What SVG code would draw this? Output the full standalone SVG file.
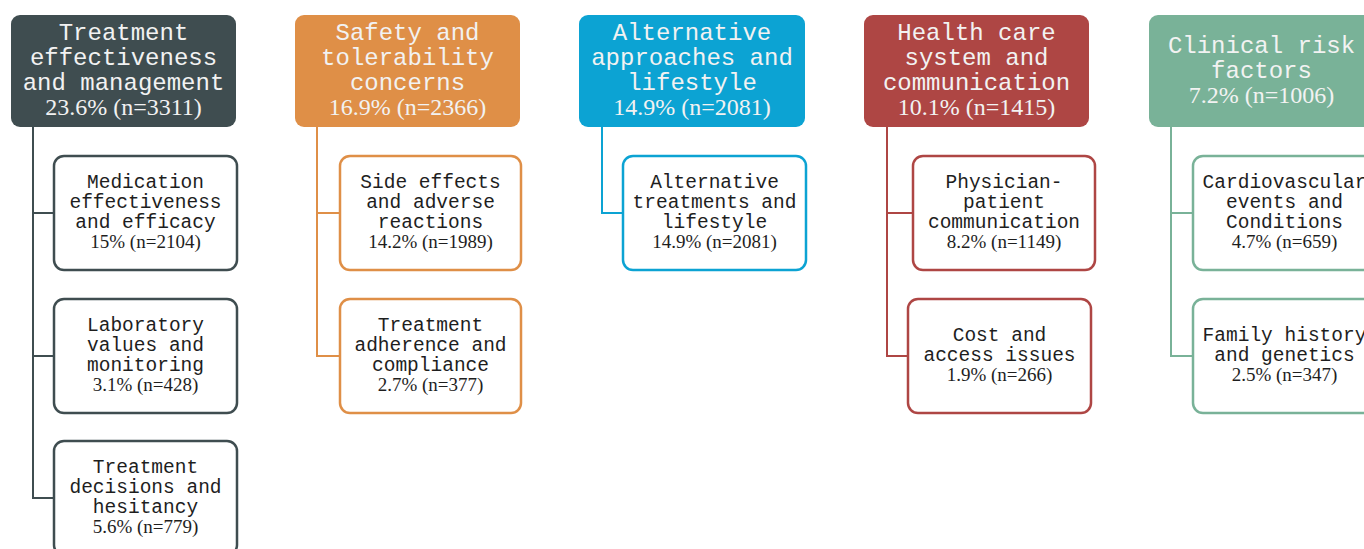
<svg xmlns="http://www.w3.org/2000/svg" width="1364" height="549" viewBox="0 0 1364 549">
  <style>
    .head { stroke: none; }
    .child { fill: #ffffff; stroke-width: 2.5; }
    .conn { fill: none; stroke-width: 2; }
    .ht { font-family: "Liberation Mono", "Courier New", monospace; font-size: 24px; fill: #f2f2f2; text-anchor: middle; }
    .hn { font-family: "Liberation Serif", "Times New Roman", serif; font-size: 24px; fill: #f2f2f2; text-anchor: middle; }
    .ct { font-family: "Liberation Mono", "Courier New", monospace; font-size: 19.5px; fill: #1e1e1e; text-anchor: middle; }
    .cn { font-family: "Liberation Serif", "Times New Roman", serif; font-size: 19px; fill: #1e1e1e; text-anchor: middle; }
    .c1 { stroke: #3f4d50; } .f1 { fill: #3f4d50; }
    .c2 { stroke: #df8f47; } .f2 { fill: #df8f47; }
    .c3 { stroke: #0ca3d3; } .f3 { fill: #0ca3d3; }
    .c4 { stroke: #ae4644; } .f4 { fill: #ae4644; }
    .c5 { stroke: #79b298; } .f5 { fill: #79b298; }
  </style>

  <!-- connectors: one trunk per category, branches to each sub-theme -->
  <g id="connectors">
    <path class="conn c1" d="M33,127 V498 H54 M33,213 H54 M33,356 H54"/>
    <path class="conn c2" d="M317,127 V356 H340 M317,213 H340"/>
    <path class="conn c3" d="M602,127 V213 H623"/>
    <path class="conn c4" d="M887,127 V356 H908 M887,213 H913"/>
    <path class="conn c5" d="M1171,127 V356 H1193 M1171,213 H1193"/>
  </g>

  <!-- Category 1 -->
  <g id="treatment-effectiveness">
    <rect class="head f1" x="11" y="15" width="225" height="112" rx="9"/>
    <text class="ht" x="123.5" y="40">Treatment</text>
    <text class="ht" x="123.5" y="65">effectiveness</text>
    <text class="ht" x="123.5" y="90">and management</text>
    <text class="hn" x="123.5" y="115">23.6% (n=3311)</text>
  </g>
  <g id="medication-effectiveness">
    <rect class="child c1" x="54" y="156" width="183" height="114" rx="10"/>
    <text class="ct" x="145.5" y="188">Medication</text>
    <text class="ct" x="145.5" y="208">effectiveness</text>
    <text class="ct" x="145.5" y="228">and efficacy</text>
    <text class="cn" x="145.5" y="248">15% (n=2104)</text>
  </g>
  <g id="laboratory-values">
    <rect class="child c1" x="54" y="299" width="183" height="114" rx="10"/>
    <text class="ct" x="145.5" y="331">Laboratory</text>
    <text class="ct" x="145.5" y="351">values and</text>
    <text class="ct" x="145.5" y="371">monitoring</text>
    <text class="cn" x="145.5" y="391">3.1% (n=428)</text>
  </g>
  <g id="treatment-decisions">
    <rect class="child c1" x="54" y="441" width="183" height="114" rx="10"/>
    <text class="ct" x="145.5" y="473">Treatment</text>
    <text class="ct" x="145.5" y="493">decisions and</text>
    <text class="ct" x="145.5" y="513">hesitancy</text>
    <text class="cn" x="145.5" y="533">5.6% (n=779)</text>
  </g>

  <!-- Category 2 -->
  <g id="safety-tolerability">
    <rect class="head f2" x="295" y="15" width="225" height="112" rx="9"/>
    <text class="ht" x="407.5" y="40">Safety and</text>
    <text class="ht" x="407.5" y="65">tolerability</text>
    <text class="ht" x="407.5" y="90">concerns</text>
    <text class="hn" x="407.5" y="115">16.9% (n=2366)</text>
  </g>
  <g id="side-effects">
    <rect class="child c2" x="340" y="156" width="181" height="114" rx="10"/>
    <text class="ct" x="430.5" y="188">Side effects</text>
    <text class="ct" x="430.5" y="208">and adverse</text>
    <text class="ct" x="430.5" y="228">reactions</text>
    <text class="cn" x="430.5" y="248">14.2% (n=1989)</text>
  </g>
  <g id="treatment-adherence">
    <rect class="child c2" x="340" y="299" width="181" height="114" rx="10"/>
    <text class="ct" x="430.5" y="331">Treatment</text>
    <text class="ct" x="430.5" y="351">adherence and</text>
    <text class="ct" x="430.5" y="371">compliance</text>
    <text class="cn" x="430.5" y="391">2.7% (n=377)</text>
  </g>

  <!-- Category 3 -->
  <g id="alternative-approaches">
    <rect class="head f3" x="579" y="15" width="226" height="112" rx="9"/>
    <text class="ht" x="692" y="40">Alternative</text>
    <text class="ht" x="692" y="65">approaches and</text>
    <text class="ht" x="692" y="90">lifestyle</text>
    <text class="hn" x="692" y="115">14.9% (n=2081)</text>
  </g>
  <g id="alternative-treatments">
    <rect class="child c3" x="623" y="156" width="183" height="114" rx="10"/>
    <text class="ct" x="714.5" y="188">Alternative</text>
    <text class="ct" x="714.5" y="208">treatments and</text>
    <text class="ct" x="714.5" y="228">lifestyle</text>
    <text class="cn" x="714.5" y="248">14.9% (n=2081)</text>
  </g>

  <!-- Category 4 -->
  <g id="health-care-system">
    <rect class="head f4" x="864" y="15" width="225" height="112" rx="9"/>
    <text class="ht" x="976.5" y="40">Health care</text>
    <text class="ht" x="976.5" y="65">system and</text>
    <text class="ht" x="976.5" y="90">communication</text>
    <text class="hn" x="976.5" y="115">10.1% (n=1415)</text>
  </g>
  <g id="physician-patient">
    <rect class="child c4" x="913" y="156" width="182" height="114" rx="10"/>
    <text class="ct" x="1004" y="188">Physician-</text>
    <text class="ct" x="1004" y="208">patient</text>
    <text class="ct" x="1004" y="228">communication</text>
    <text class="cn" x="1004" y="248">8.2% (n=1149)</text>
  </g>
  <g id="cost-access">
    <rect class="child c4" x="908" y="299" width="183" height="114" rx="10"/>
    <text class="ct" x="999.5" y="341">Cost and</text>
    <text class="ct" x="999.5" y="361">access issues</text>
    <text class="cn" x="999.5" y="381">1.9% (n=266)</text>
  </g>

  <!-- Category 5 -->
  <g id="clinical-risk">
    <rect class="head f5" x="1149" y="15" width="225" height="112" rx="9"/>
    <text class="ht" x="1261.5" y="53">Clinical risk</text>
    <text class="ht" x="1261.5" y="78">factors</text>
    <text class="hn" x="1261.5" y="103">7.2% (n=1006)</text>
  </g>
  <g id="cardiovascular">
    <rect class="child c5" x="1193" y="156" width="183" height="114" rx="10"/>
    <text class="ct" x="1284.5" y="188">Cardiovascular</text>
    <text class="ct" x="1284.5" y="208">events and</text>
    <text class="ct" x="1284.5" y="228">Conditions</text>
    <text class="cn" x="1284.5" y="248">4.7% (n=659)</text>
  </g>
  <g id="family-history">
    <rect class="child c5" x="1193" y="299" width="183" height="114" rx="10"/>
    <text class="ct" x="1284.5" y="341">Family history</text>
    <text class="ct" x="1284.5" y="361">and genetics</text>
    <text class="cn" x="1284.5" y="381">2.5% (n=347)</text>
  </g>
</svg>
